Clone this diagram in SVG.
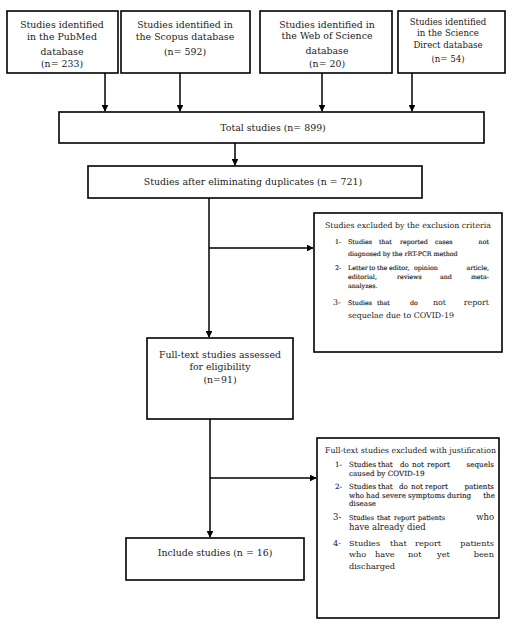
<svg xmlns="http://www.w3.org/2000/svg" width="515" height="631" viewBox="0 0 515 631">
<style>
.box{fill:#fff;stroke:#000;stroke-width:1.6}
.t{font-family:"DejaVu Serif","Liberation Serif",serif;font-size:9.4px;fill:#222}
.c{text-anchor:middle}
.e{text-anchor:end}
.h{font-size:7.8px}
.s{font-size:6.3px;stroke:#222;stroke-width:0.15px}
.s2{font-size:7.2px;stroke:#222;stroke-width:0.12px}
.s3{font-size:6.6px;stroke:#222;stroke-width:0.12px}
.m{font-size:7.9px}
.m2{font-size:8.5px}
.l{font-size:8.2px}
.ln{stroke:#000;stroke-width:1.5;fill:none}
</style>
<defs>
<marker id="ah" viewBox="0 0 10 10" refX="9" refY="5" markerWidth="4.5" markerHeight="4.5" orient="auto" markerUnits="strokeWidth">
<path d="M0,0 L10,5 L0,10 z" fill="#000"/>
</marker>
</defs>
<rect width="515" height="631" fill="#fff"/>
<g id="connectors">
<line class="ln" x1="105" y1="73" x2="105" y2="111" marker-end="url(#ah)"/>
<line class="ln" x1="180" y1="73" x2="180" y2="111" marker-end="url(#ah)"/>
<line class="ln" x1="322" y1="73" x2="322" y2="111" marker-end="url(#ah)"/>
<line class="ln" x1="412" y1="73" x2="412" y2="111" marker-end="url(#ah)"/>
<line class="ln" x1="235" y1="143" x2="235" y2="165" marker-end="url(#ah)"/>
<line class="ln" x1="209" y1="198" x2="209" y2="337" marker-end="url(#ah)"/>
<line class="ln" x1="209" y1="248" x2="313" y2="248" marker-end="url(#ah)"/>
<line class="ln" x1="210" y1="419" x2="210" y2="537" marker-end="url(#ah)"/>
<line class="ln" x1="210" y1="478" x2="316" y2="478" marker-end="url(#ah)"/>
</g>
<g id="pubmed">
<rect class="box" x="7" y="11" width="111" height="62"/>
<text class="t c" x="62" y="28">Studies identified</text>
<text class="t c" x="62" y="40">in the PubMed</text>
<text class="t c" x="62" y="55">database</text>
<text class="t c" x="62" y="67">(n= 233)</text>
</g>
<g id="scopus">
<rect class="box" x="121" y="11" width="129" height="62"/>
<text class="t c" x="185" y="28">Studies identified in</text>
<text class="t c" x="185" y="40">the Scopus database</text>
<text class="t c" x="185" y="55">(n= 592)</text>
</g>
<g id="wos">
<rect class="box" x="260" y="11" width="132" height="62"/>
<text class="t c" x="327" y="28">Studies identified in</text>
<text class="t c" x="327" y="39">the Web of Science</text>
<text class="t c" x="327" y="54">database</text>
<text class="t c" x="327" y="67">(n= 20)</text>
</g>
<g id="sciencedirect">
<rect class="box" x="398" y="11" width="107" height="62"/>
<text class="t c" x="448" y="25" style="font-size:8.6px">Studies identified</text>
<text class="t c" x="448" y="36" style="font-size:8.6px">in the Science</text>
<text class="t c" x="448" y="48" style="font-size:8.6px">Direct database</text>
<text class="t c" x="448" y="62" style="font-size:8.6px">(n= 54)</text>
</g>
<g id="total">
<rect class="box" x="59" y="112" width="425" height="31"/>
<text class="t c" x="273" y="131">Total studies (n= 899)</text>
</g>
<g id="duplicates">
<rect class="box" x="88" y="166" width="334" height="32"/>
<text class="t c" x="253" y="185">Studies after eliminating duplicates (n = 721)</text>
</g>
<g id="excluded1">
<rect class="box" x="314" y="213" width="188" height="139"/>
<text class="t h" x="325" y="228">Studies excluded by the exclusion criteria</text>
<text class="t s" x="335" y="244">1-</text>
<text class="t s" x="348" y="244">Studies</text>
<text class="t s" x="379" y="244">that</text>
<text class="t s" x="400" y="244">reported</text>
<text class="t s" x="435" y="244">cases</text>
<text class="t s e" x="489" y="244">not</text>
<text class="t s" x="348" y="256">diagnosed by the rRT-PCR method</text>
<text class="t s" x="335" y="270">2-</text>
<text class="t s" x="348" y="270">Letter</text>
<text class="t s" x="369" y="270">to</text>
<text class="t s" x="377" y="270">the</text>
<text class="t s" x="389" y="270">editor,</text>
<text class="t s" x="414" y="270">opinion</text>
<text class="t s e" x="489" y="270">article,</text>
<text class="t s" x="348" y="279">editorial,</text>
<text class="t s" x="397" y="279">reviews</text>
<text class="t s" x="440" y="279">and</text>
<text class="t s e" x="489" y="279">meta-</text>
<text class="t s" x="348" y="288">analyzes.</text>
<text class="t m" x="333" y="305">3-</text>
<text class="t s" x="348" y="305">Studies</text>
<text class="t s" x="377" y="305">that</text>
<text class="t s" x="410" y="305">do</text>
<text class="t m" x="433" y="305">not</text>
<text class="t m e" x="489" y="305">report</text>
<text class="t m" x="348" y="318">sequelae due to COVID-19</text>
</g>
<g id="fulltext">
<rect class="box" x="147" y="338" width="146" height="81"/>
<text class="t c" x="220" y="358">Full-text studies assessed</text>
<text class="t c" x="220" y="370">for eligibility</text>
<text class="t c" x="220" y="383">(n=91)</text>
</g>
<g id="excluded2">
<rect class="box" x="317" y="438" width="182" height="180"/>
<text class="t h" x="325" y="453">Full-text studies excluded with justification</text>
<text class="t s2" x="335" y="467">1-</text>
<text class="t s2" x="349" y="467">Studies</text>
<text class="t s2" x="378" y="467">that</text>
<text class="t s2" x="400" y="467">do</text>
<text class="t s2" x="412" y="467">not</text>
<text class="t s2" x="427" y="467">report</text>
<text class="t s2 e" x="494" y="467">sequels</text>
<text class="t s2" x="349" y="476">caused by COVID-19</text>
<text class="t s2" x="335" y="489">2-</text>
<text class="t s2" x="349" y="489">Studies</text>
<text class="t s2" x="378" y="489">that</text>
<text class="t s2" x="399" y="489">do</text>
<text class="t s2" x="411" y="489">not</text>
<text class="t s2" x="425" y="489">report</text>
<text class="t s2 e" x="494" y="489">patients</text>
<text class="t s2" x="349" y="498">who</text>
<text class="t s2" x="366" y="498">had</text>
<text class="t s2" x="382" y="498">severe</text>
<text class="t s2" x="408" y="498">symptoms</text>
<text class="t s2" x="447" y="498">during</text>
<text class="t s2 e" x="495" y="498">the</text>
<text class="t s2" x="349" y="506">disease</text>
<text class="t m2" x="333" y="520">3-</text>
<text class="t s3" x="349" y="520">Studies</text>
<text class="t s3" x="377" y="520">that</text>
<text class="t s3" x="394" y="520">report</text>
<text class="t s3" x="418" y="520">patients</text>
<text class="t m2 e" x="494" y="520">who</text>
<text class="t m2" x="349" y="530">have already died</text>
<text class="t l" x="333" y="546">4-</text>
<text class="t l" x="349" y="546">Studies</text>
<text class="t l" x="390" y="546">that</text>
<text class="t l" x="415" y="546">report</text>
<text class="t l e" x="494" y="546">patients</text>
<text class="t l" x="349" y="557">who</text>
<text class="t l" x="375" y="557">have</text>
<text class="t l" x="408" y="557">not</text>
<text class="t l" x="437" y="557">yet</text>
<text class="t l e" x="494" y="557">been</text>
<text class="t l" x="349" y="569">discharged</text>
</g>
<g id="include">
<rect class="box" x="126" y="538" width="178" height="42"/>
<text class="t c" x="215" y="556">Include studies (n = 16)</text>
</g>
</svg>
